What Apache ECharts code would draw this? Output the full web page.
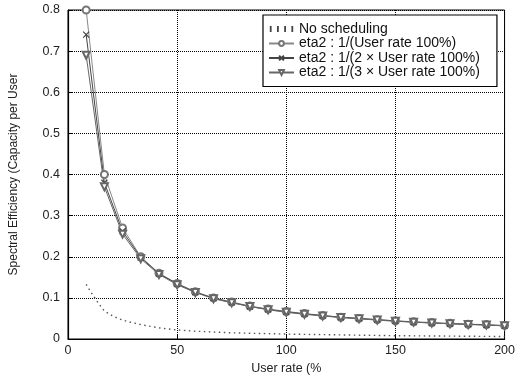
<!DOCTYPE html>
<html>
<head>
<meta charset="utf-8">
<script src="https://cdn.jsdelivr.net/npm/echarts@6/dist/echarts.min.js"></script>
<style>
  html, body { margin: 0; padding: 0; background: #fff; }
  #chart { width: 518px; height: 380px; }
</style>
</head>
<body>
<div id="chart"></div>
<script>
// user rate (%) sample points
const rates = [8.33, 16.67, 25, 33.33, 41.67, 50, 58.33, 66.67, 75, 83.33, 91.67, 100,
  108.33, 116.67, 125, 133.33, 141.67, 150, 158.33, 166.67, 175, 183.33, 191.67, 200];

const eta1 = [0.80, 0.40, 0.27, 0.20, 0.16, 0.135, 0.115, 0.10, 0.09, 0.08, 0.073, 0.067,
  0.062, 0.057, 0.053, 0.050, 0.047, 0.044, 0.042, 0.040, 0.038, 0.036, 0.035, 0.033];
const eta2 = [0.74, 0.38, 0.262, 0.198, 0.159, 0.134, 0.114, 0.099, 0.089, 0.079, 0.072, 0.066,
  0.061, 0.057, 0.053, 0.050, 0.047, 0.044, 0.041, 0.039, 0.037, 0.036, 0.034, 0.032];
const eta3 = [0.69, 0.37, 0.255, 0.195, 0.157, 0.132, 0.113, 0.098, 0.088, 0.079, 0.071, 0.065,
  0.060, 0.056, 0.052, 0.049, 0.046, 0.043, 0.041, 0.039, 0.037, 0.035, 0.034, 0.032];

// no scheduling (dotted curve)
const noSchedX = [8.33, 10.4, 12.5, 14.6, 16.67, 20.8, 25, 29.2, 33.33, 41.67, 50, 58.33,
  66.67, 75, 83.33, 100, 125, 150, 175, 200];
const noSchedY = [0.133, 0.115, 0.098, 0.082, 0.068, 0.055, 0.046, 0.040, 0.035, 0.027, 0.022, 0.019,
  0.017, 0.015, 0.014, 0.012, 0.010, 0.008, 0.007, 0.006];

const names = ['No scheduling', 'eta2 : 1/(User rate 100%)', 'eta2 : 1/(2 \u00d7 User rate 100%)', 'eta2 : 1/(3 \u00d7 User rate 100%)'];

const FONT = 'Liberation Sans, Arial, sans-serif';
const crossPath = 'path://M0,0 L10,10 M10,0 L0,10';
const dotsIcon = 'path://M2,2h1.5v5h-1.5z M8,2h1.5v5h-1.5z M14,2h1.5v5h-1.5z M20,2h1.5v5h-1.5z';

const zip = (xs, ys) => xs.map((x, i) => [x, ys[i]]);

const chart = echarts.init(document.getElementById('chart'));

const option = {
  backgroundColor: '#ffffff',
  animation: false,
  grid: {
    show: true,
    left: 68, right: 10, top: 10, bottom: 40,
    borderColor: '#000', borderWidth: 1,
    backgroundColor: 'transparent'
  },
  legend: {
    orient: 'vertical',
    left: 263, top: 15,
    data: [
      { name: names[0], icon: dotsIcon, itemStyle: { color: '#444' } },
      names[1], names[2], names[3]
    ],
    itemWidth: 25, itemHeight: 6, itemGap: 0.5,
    padding: [7, 17, 7, 5],
    borderColor: '#000', borderWidth: 1.2,
    backgroundColor: '#fff',
    textStyle: { fontFamily: FONT, fontSize: 14, color: '#111', lineHeight: 13 }
  },
  xAxis: {
    type: 'value', min: 0, max: 200, interval: 50,
    name: 'User rate (%', nameLocation: 'middle', nameGap: 23,
    nameTextStyle: { fontFamily: FONT, fontSize: 12.5, color: '#222' },
    axisLine: { lineStyle: { color: '#000', width: 1.2 } },
    axisTick: { inside: true, length: 4, lineStyle: { color: '#000' } },
    axisLabel: { fontFamily: FONT, fontSize: 12.5, color: '#222', margin: 5 },
    splitLine: { lineStyle: { color: '#000', type: 'dotted', width: 1 } }
  },
  yAxis: {
    type: 'value', min: 0, max: 0.8, interval: 0.1,
    name: 'Spectral Efficiency (Capacity per User', nameLocation: 'middle', nameGap: 48,
    nameTextStyle: { fontFamily: FONT, fontSize: 12, color: '#222' },
    axisLine: { show: true, lineStyle: { color: '#000', width: 1.2 } },
    axisTick: { show: true, inside: true, length: 4, lineStyle: { color: '#000' } },
    axisLabel: {
      fontFamily: FONT, fontSize: 12.5, color: '#222', margin: 8,
      formatter: v => v === 0 ? '0' : v.toFixed(1)
    },
    splitLine: { lineStyle: { color: '#000', type: 'dotted', width: 1 } }
  },
  series: [
    {
      name: names[0], type: 'line', data: zip(noSchedX, noSchedY),
      showSymbol: false, symbol: 'none',
      lineStyle: { color: '#555', width: 1.4, type: [1.5, 3.5] },
      itemStyle: { color: '#555' }
    },
    {
      name: names[1], type: 'line', data: zip(rates, eta1),
      symbol: 'emptyCircle', symbolSize: 7,
      lineStyle: { color: '#888', width: 1 },
      itemStyle: { color: '#777', borderWidth: 1 }
    },
    {
      name: names[2], type: 'line', data: zip(rates, eta2),
      symbol: crossPath, symbolSize: 6,
      lineStyle: { color: '#444', width: 1 },
      itemStyle: { color: 'none', borderColor: '#444', borderWidth: 1.2 }
    },
    {
      name: names[3], type: 'line', data: zip(rates, eta3),
      symbol: 'emptyTriangle', symbolSize: 7, symbolRotate: 180,
      lineStyle: { color: '#666', width: 1 },
      itemStyle: { color: '#666', borderWidth: 1 }
    }
  ]
};

chart.setOption(option);
</script>
</body>
</html>
